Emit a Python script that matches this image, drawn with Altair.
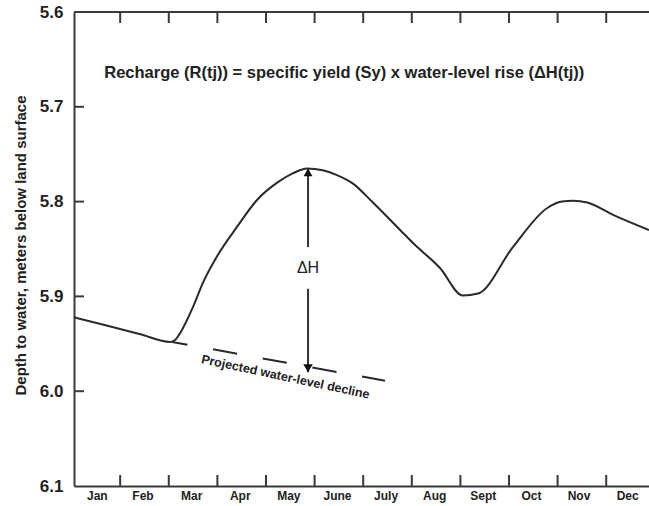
import altair as alt
import pandas as pd

# ---- data ----
months = ["Jan", "Feb", "Mar", "Apr", "May", "June", "July", "Aug", "Sept", "Oct", "Nov", "Dec"]
month_label_pos = [0.52, 1.46, 2.46, 3.46, 4.46, 5.46, 6.46, 7.46, 8.46, 9.45, 10.43, 11.43]
month_bounds = [1, 2, 3, 4, 5, 6, 7, 8, 9, 10, 11]
y_tick_values = [5.6, 5.7, 5.8, 5.9, 6.0, 6.1]
y_inner_ticks = [5.7, 5.8, 5.9, 6.0]

curve_x = [0.05, 0.70, 1.40, 2.03, 2.13, 2.23, 2.50, 2.70, 2.99, 3.40, 3.82, 4.23, 4.56,
           4.84, 5.17, 5.46, 5.79, 6.20, 6.76, 7.03, 7.58, 8.05, 8.36, 9.08, 9.78, 10.09,
           10.32, 10.61, 11.14, 11.88]
curve_y = [5.922, 5.9305, 5.9397, 5.948, 5.946, 5.939, 5.911, 5.886, 5.858, 5.827, 5.798,
           5.780, 5.770, 5.765, 5.767, 5.772, 5.781, 5.801, 5.830, 5.844, 5.870, 5.899,
           5.897, 5.848, 5.807, 5.800, 5.799, 5.801, 5.814, 5.830]

proj_x = [2.07, 6.45]
proj_y = [5.948, 5.989]

arrow_x = 4.865
arrow_top = 5.765
arrow_bottom = 5.980
arrow_gap_top = 5.848
arrow_gap_bottom = 5.892

title_text = "Recharge (R(tj)) = specific yield (Sy) x water-level rise (\u0394H(tj))"
title_pos = (5.61, 5.664)
proj_label = "Projected water-level decline"
proj_label_pos = (4.40, 5.985)
dh_label = "\u0394H"
dh_pos = (arrow_x, 5.870)

# ---- layout ----
W, H = 575, 474
FONT = "Liberation Sans"
INK = "#2a2a2a"
AX = "#3a3a3a"

xs = alt.Scale(domain=[0.05, 11.88], nice=False, zero=False)
ys = alt.Scale(domain=[5.6, 6.1], reverse=True, nice=False, zero=False)

label_expr = "[" + ",".join("'%s'" % m for m in months) + "][round(datum.value - 0.47)]"

x_axis = alt.Axis(values=month_label_pos, labelExpr=label_expr, tickSize=0,
                  domain=True, domainColor=AX, domainWidth=2, grid=False, title=None,
                  labelFont=FONT, labelFontSize=12, labelFontWeight="bold",
                  labelColor="#222", labelPadding=4, labelFlush=False, labelOverlap=False)
y_axis = alt.Axis(values=y_tick_values, format=".1f", tickSize=0, domain=True,
                  domainColor=AX, domainWidth=2, grid=False,
                  title="Depth to water, meters below land surface",
                  titleFont=FONT, titleFontSize=15, titleFontWeight="bold", titleColor="#222",
                  titleAngle=-90, titleX=-54, titleY=H / 2 - 4, titleAlign="center",
                  titleBaseline="middle",
                  labelFont=FONT, labelFontSize=17, labelFontWeight="bold", labelColor="#222",
                  labelPadding=11, labelFlush=False, labelOverlap=False)

X = lambda f="x": alt.X(f + ":Q", scale=xs, axis=x_axis)
Y = lambda f="y": alt.Y(f + ":Q", scale=ys, axis=y_axis)

curve_df = pd.DataFrame({"x": curve_x, "y": curve_y})
proj_df = pd.DataFrame({"x": proj_x, "y": proj_y})
bounds_df = pd.DataFrame({"x": month_bounds})
yt_df = pd.DataFrame({"y": y_inner_ticks})
top_df = pd.DataFrame({"y": [5.6]})
seg_df = pd.DataFrame({"x": [arrow_x, arrow_x], "y": [arrow_top, arrow_gap_bottom],
                       "y2": [arrow_gap_top, arrow_bottom]})
head_up = pd.DataFrame({"x": [arrow_x], "y": [arrow_top]})
head_dn = pd.DataFrame({"x": [arrow_x], "y": [arrow_bottom]})
title_df = pd.DataFrame({"x": [title_pos[0]], "y": [title_pos[1]], "t": [title_text]})
proj_lab_df = pd.DataFrame({"x": [proj_label_pos[0]], "y": [proj_label_pos[1]], "t": [proj_label]})
dh_df = pd.DataFrame({"x": [dh_pos[0]], "y": [dh_pos[1]], "t": [dh_label]})

curve = alt.Chart(curve_df).mark_line(color=INK, strokeWidth=2, interpolate="monotone").encode(
    x=X(), y=Y())
proj = alt.Chart(proj_df).mark_line(color=INK, strokeWidth=2, strokeDash=[24.5, 26],
                                    strokeDashOffset=9).encode(x=X(), y=Y())
top_border = alt.Chart(top_df).mark_rule(color=AX, strokeWidth=2).encode(y=Y())
bottom_ticks = alt.Chart(bounds_df).mark_rule(color=AX, strokeWidth=2).encode(
    x=X(), y=alt.value(H), y2=alt.value(H - 11))
top_ticks = alt.Chart(bounds_df).mark_rule(color=AX, strokeWidth=2).encode(
    x=X(), y=alt.value(0), y2=alt.value(11))
left_ticks = alt.Chart(yt_df).mark_rule(color=AX, strokeWidth=2).encode(
    y=Y(), x=alt.value(0), x2=alt.value(10))
segs = alt.Chart(seg_df).mark_rule(color="#333", strokeWidth=2).encode(
    x=X(), y=Y(), y2="y2:Q")
up = alt.Chart(head_up).mark_point(shape="triangle-up", filled=True, size=80, color="#111",
                                   opacity=1, yOffset=4).encode(x=X(), y=Y())
dn = alt.Chart(head_dn).mark_point(shape="triangle-down", filled=True, size=90, color="#111",
                                   opacity=1, yOffset=-4).encode(x=X(), y=Y())
title = alt.Chart(title_df).mark_text(font=FONT, fontSize=16.5, fontWeight="bold",
                                      color="#222").encode(x=X(), y=Y(), text="t:N")
proj_lab = alt.Chart(proj_lab_df).mark_text(font=FONT, fontSize=12.5, fontWeight="bold",
                                            angle=12, color="#222").encode(x=X(), y=Y(), text="t:N")
dh = alt.Chart(dh_df).mark_text(font=FONT, fontSize=16, color="#222").encode(
    x=X(), y=Y(), text="t:N")

chart = alt.layer(curve, proj, top_border, bottom_ticks, top_ticks, left_ticks, segs, up, dn,
                  title, proj_lab, dh).properties(
    width=W, height=H,
    autosize=alt.AutoSizeParams(type="none"),
    padding={"left": 74, "top": 12, "right": 0, "bottom": 20},
    background="white",
).configure_view(stroke=None)

chart.save("out.html", embed_options={"renderer": "svg", "actions": False})
